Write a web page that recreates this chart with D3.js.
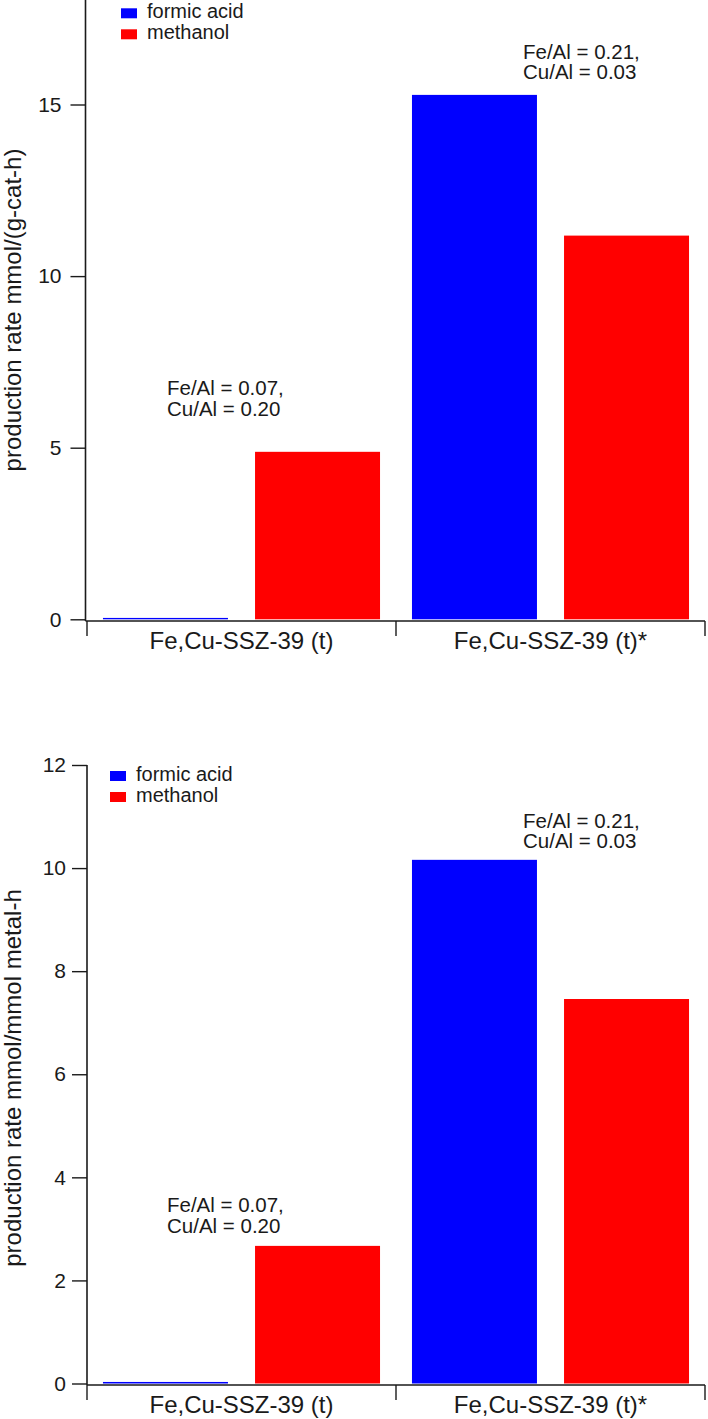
<!DOCTYPE html>
<html>
<head>
<meta charset="utf-8">
<script src="https://cdn.jsdelivr.net/npm/d3@7"></script>
<style>
  html, body { margin: 0; padding: 0; background: #fff; }
  svg { display: block; }
  text { font-family: "Liberation Sans", Arial, Helvetica, sans-serif; fill: #1a1a1a; }
</style>
</head>
<body>
<svg id="chart" width="708" height="1419"></svg>
<script>
// ---- data ----
const categories = ["Fe,Cu-SSZ-39 (t)", "Fe,Cu-SSZ-39 (t)*"];
const seriesNames = ["formic acid", "methanol"];
const seriesColors = ["#0000ff", "#ff0000"];

const formicPerGram = [0.04, 15.28];
const methanolPerGram = [4.88, 11.18];
const formicPerMetal = [0.03, 10.16];
const methanolPerMetal = [2.67, 7.46];

const ticksPerGram = [0, 5, 10, 15];
const ticksPerMetal = [0, 2, 4, 6, 8, 10, 12];

const annotationLeft = ["Fe/Al = 0.07,", "Cu/Al = 0.20"];
const annotationRight = ["Fe/Al = 0.21,", "Cu/Al = 0.03"];

const titlePerGram = "production rate mmol/(g-cat-h)";
const titlePerMetal = "production rate mmol/mmol metal-h";

// ---- drawing ----
const svg = d3.select("#chart");
const AXIS = "#1a1a1a";

function drawPanel(opt) {
  const g = svg.append("g");
  const y = d3.scaleLinear().domain(opt.yDomain).range([opt.y0, opt.yTopPx]);
  const x = d3.scaleBand().domain(categories).range([87, 705]).paddingInner(0).paddingOuter(0);
  const xs = d3.scaleBand().domain(seriesNames).range([0, x.bandwidth()])
    .paddingInner(0.178).paddingOuter(0.105);

  const rows = categories.map((c, i) => ({ cat: c, vals: [opt.formic[i], opt.methanol[i]] }));

  // bars
  rows.forEach(r => {
    r.vals.forEach((v, k) => {
      g.append("rect")
        .attr("x", x(r.cat) + xs(seriesNames[k]))
        .attr("y", y(v))
        .attr("width", xs.bandwidth())
        .attr("height", y(0) - y(v))
        .attr("fill", seriesColors[k]);
    });
  });

  // y axis
  const yAxis = d3.axisLeft(y).tickValues(opt.ticks).tickSize(15).tickPadding(opt.tickPad).tickSizeOuter(0)
    .tickFormat(d3.format("d"));
  const ya = g.append("g").attr("transform", `translate(${opt.axisX},0)`).call(yAxis);
  ya.select(".domain").remove();
  ya.selectAll(".tick line").attr("stroke", AXIS).attr("stroke-width", 1.4);
  ya.selectAll(".tick text").attr("font-size", 21).attr("fill", AXIS)
    .attr("font-family", '"Liberation Sans", Arial, Helvetica, sans-serif');
  g.append("line")
    .attr("x1", opt.axisX).attr("x2", opt.axisX)
    .attr("y1", opt.axisTopPx).attr("y2", opt.xAxisY)
    .attr("stroke", AXIS).attr("stroke-width", 1.6);

  // x axis
  const xr = x.range();
  g.append("line").attr("x1", opt.axisX).attr("x2", xr[1])
    .attr("y1", opt.xAxisY).attr("y2", opt.xAxisY).attr("stroke", AXIS).attr("stroke-width", 1.6);
  const bounds = categories.map(c => x(c)).concat([xr[1]]);
  bounds.forEach(b => {
    g.append("line").attr("x1", b).attr("x2", b)
      .attr("y1", opt.xAxisY).attr("y2", opt.xAxisY + 15)
      .attr("stroke", AXIS).attr("stroke-width", 1.4);
  });
  categories.forEach(c => {
    g.append("text").attr("x", x(c) + x.bandwidth() / 2).attr("y", opt.xAxisY + 28)
      .attr("text-anchor", "middle").attr("font-size", 24).text(c);
  });

  // y title
  g.append("text")
    .attr("transform", `translate(21,${opt.titleY}) rotate(-90)`)
    .attr("text-anchor", "middle").attr("font-size", 24).text(opt.title);

  // legend
  seriesNames.forEach((s, k) => {
    g.append("rect").attr("x", opt.legX).attr("y", opt.legY + k * 21)
      .attr("width", 16).attr("height", 10).attr("fill", seriesColors[k]);
    g.append("text").attr("x", opt.legX + 26).attr("y", opt.legY + 10 + k * 21)
      .attr("font-size", 20).text(s);
  });

  // annotations
  [[annotationLeft, opt.annL], [annotationRight, opt.annR]].forEach(([lines, pos]) => {
    lines.forEach((t, i) => {
      g.append("text").attr("x", pos[0]).attr("y", pos[1] + i * 20.5)
        .attr("font-size", 20.5).text(t);
    });
  });
}

drawPanel({
  yDomain: [0, 18], y0: 619.3, yTopPx: 619.3 - 18 * 34.32,
  ticks: ticksPerGram, tickPad: 9, axisX: 85.5, axisTopPx: 0, xAxisY: 621,
  formic: formicPerGram, methanol: methanolPerGram,
  title: titlePerGram, titleY: 310,
  legX: 121, legY: 8.3,
  annL: [167, 395], annR: [523, 58.5]
});

drawPanel({
  yDomain: [0, 12], y0: 1383.5, yTopPx: 765,
  ticks: ticksPerMetal, tickPad: 6, axisX: 87, axisTopPx: 765, xAxisY: 1385,
  formic: formicPerMetal, methanol: methanolPerMetal,
  title: titlePerMetal, titleY: 1078,
  legX: 110, legY: 771,
  annL: [167, 1212.3], annR: [523, 827.5]
});
</script>
</body>
</html>
